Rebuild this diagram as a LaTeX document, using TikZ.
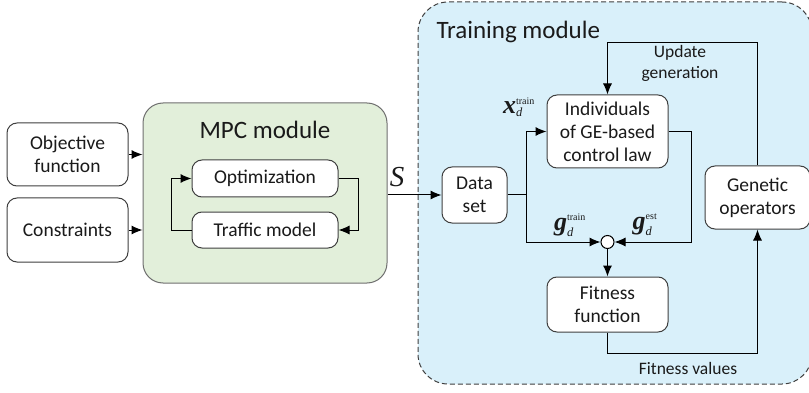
\documentclass[tikz,border=0pt]{standalone}
\usepackage{fontspec}
\setmainfont{Carlito}
\newfontfamily\tnr{Liberation Serif}
\usetikzlibrary{arrows.meta,calc}

\definecolor{edgegray}{HTML}{3F3F3F}
\definecolor{mpcfill}{HTML}{E2EFDA}
\definecolor{mpcedge}{HTML}{6F6F6F}
\definecolor{trainfill}{HTML}{D9F0FA}
\definecolor{inkc}{HTML}{1A1A1A}

\newcommand{\boxfont}{\fontsize{19.5}{23}\selectfont}
\newcommand{\notefont}{\fontsize{17.5}{21}\selectfont}
\newcommand{\titlefont}{\fontsize{25}{28}\selectfont}
% bold italic Times-style symbol with stacked sub- and superscript
\newcommand{\varlabel}[3]{$\hbox{\tnr\fontsize{26}{26}\selectfont\bfseries\itshape #1}%
  ^{\hbox{\tnr\fontsize{10}{10}\selectfont #2}}%
  _{\hbox{\tnr\fontsize{12.5}{12.5}\selectfont\itshape #3}}$}

\begin{document}
\begin{tikzpicture}[x=1pt,y=-1pt,
  line width=1pt,
  text=inkc,
  blockbox/.style={draw=edgegray, fill=white, rounded corners=10pt,
    align=center, inner sep=1pt, font=\boxfont},
  link/.style={draw=black, line width=1pt},
  flow/.style={link, -{Latex[length=11pt,width=9pt]}},
  notetext/.style={font=\notefont, align=center, inner sep=0pt}
]
\useasboundingbox (0,0) rectangle (809,393);

% module frames
\node[draw=mpcedge, fill=mpcfill, rounded corners=20pt,
      minimum width=244pt, minimum height=180pt] (mpc) at (265,193) {};
\node[draw=edgegray, dashed, dash pattern=on 5pt off 3pt, fill=trainfill,
      rounded corners=30pt, minimum width=394pt, minimum height=382pt]
      (train) at (615,193) {};

\node[font=\titlefont, inner sep=0pt] (mpctitle) at (265,130) {MPC module};
\node[font=\titlefont, inner sep=0pt, anchor=west] (traintitle) at (436,32) {Training module};

% inputs
\node[blockbox, minimum width=121pt, minimum height=63pt] (obj) at (67.5,154.5) {Objective\\function};
\node[blockbox, minimum width=121pt, minimum height=64pt] (cons) at (67.5,230) {Constraints};

% MPC loop
\node[blockbox, minimum width=146pt, minimum height=37pt] (opt) at (265,178.5) {Optimization};
\node[blockbox, minimum width=146pt, minimum height=36pt] (traf) at (265,230) {Traffic model};

% training blocks
\node[blockbox, minimum width=65pt, minimum height=56pt] (data) at (474.5,195) {Data\\set};
\node[blockbox, minimum width=121pt, minimum height=73pt] (ind) at (607.5,131.5) {Individuals\\of GE-based\\control law};
\node[blockbox, minimum width=121pt, minimum height=55pt] (fit) at (607.5,304.5) {Fitness\\function};
\node[blockbox, minimum width=105pt, minimum height=63pt] (gen) at (757.5,197.5) {Genetic\\operators};
\node[draw=black, fill=white, circle, minimum size=13pt, inner sep=0pt] (sum) at (607.5,242) {};

% routing points
\coordinate (split) at (526,195);
\coordinate (indout) at (691,131.5);
\coordinate (fitlow) at (607.5,353);
\coordinate (gentop) at (757.5,43);

% inputs into the MPC module
\draw[flow] (obj.east) -- (obj.east -| mpc.west);
\draw[flow] (cons.east) -- (cons.east -| mpc.west);

% optimization / traffic model loop
\draw[flow] (opt.east) -- ++(20,0) |- (traf.east);
\draw[flow] (traf.west) -- ++(-20,0) |- (opt.west);

% MPC output to the data set
\draw[flow] (data.west -| mpc.east) -- (data.west);
\node[font=\tnr\itshape\fontsize{29}{29}\selectfont, inner sep=0pt] (slabel) at (397,177) {S};

% data set to individuals and comparison
\draw[link] (data.east) -- (split);
\draw[flow] (split) |- (ind.west);
\draw[flow] (split) |- (sum.west);
\draw[link] (ind.east) -- (indout);
\draw[flow] (indout) |- (sum.east);
\draw[flow] (sum.south) -- (fit.north);

% fitness to genetic operators and back
\draw[flow] (fit.south) -- (fitlow) -| (gen.south);
\draw[flow] (gen.north) -- (gentop) -| (ind.north);

% labels
\node[notetext] (updlabel) at (680,63) {Update\\generation};
\node[notetext] (fitlabel) at (688,368) {Fitness values};
\node[inner sep=0pt] (xlabel) at (519,107) {\varlabel{x}{train}{d}};
\node[inner sep=0pt] (gtrain) at (570,225) {\varlabel{g}{train}{d}};
\node[inner sep=0pt] (gest) at (645,225) {\varlabel{g}{est}{d}};
\end{tikzpicture}
\end{document}
